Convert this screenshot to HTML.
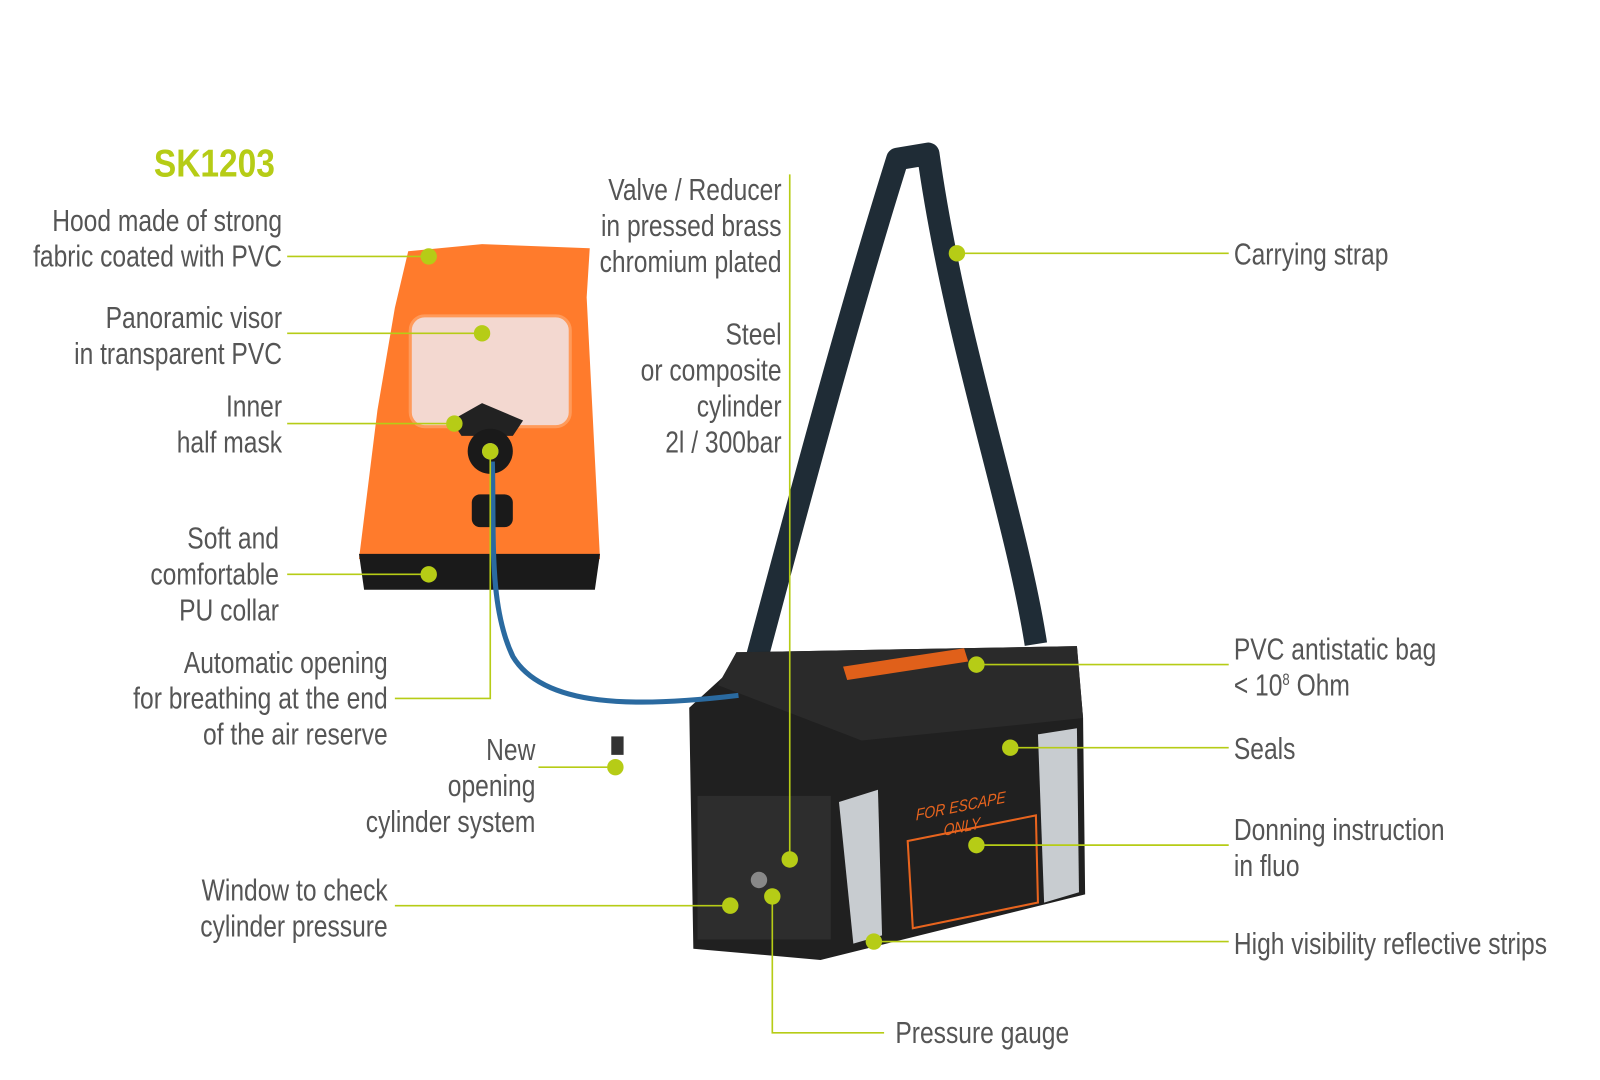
<!DOCTYPE html>
<html><head><meta charset="utf-8"><style>
html,body{margin:0;padding:0;background:#fff;width:1600px;height:1080px;overflow:hidden}
svg{display:block}
text{font-family:"Liberation Sans",sans-serif;fill:#555;font-size:30px}
.r{text-anchor:end}
</style></head><body>
<svg width="1600" height="1080" viewBox="0 0 1560 1053" xmlns="http://www.w3.org/2000/svg">
<!-- strap -->
<path d="M725 690 C760 560 820 330 875 155 L905 150 C930 330 990 500 1010 628" fill="none" stroke="#1f2c36" stroke-width="22" stroke-linejoin="round"/>
<!-- bag -->
<path d="M672 690 L705 660 L718 636 L1050 630 L1056 700 L1058 872 L800 936 L676 925 Z" fill="#202020"/>
<path d="M700 668 L718 636 L1050 630 L1056 700 L1000 706 L840 722 Z" fill="#2a2a2a"/>
<path d="M818 782 L856 770 L860 912 L832 920 Z" fill="#c8ccd0"/>
<path d="M1012 716 L1050 710 L1052 870 L1018 880 Z" fill="#c8ccd0"/>
<rect x="680" y="776" width="130" height="140" fill="#2d2d2d"/>
<path d="M822 650 L940 632 L944 645 L826 663 Z" fill="#e0601a"/>
<text transform="matrix(0.85 -0.17 0 1 893 800)" style="fill:#e8641e;font-size:16px;font-style:italic">FOR ESCAPE</text>
<text transform="matrix(0.85 -0.17 0 1 920 815)" style="fill:#e8641e;font-size:16px;font-style:italic">ONLY</text>
<path d="M885 820 L1010 795 L1012 880 L890 905 Z" fill="none" stroke="#e8641e" stroke-width="2"/>
<circle cx="740" cy="858" r="8" fill="#888"/>
<!-- hood -->
<path d="M398 245 L470 238 L575 242 L572 290 L585 545 L350 545 L368 400 L385 300 Z" fill="#ff7b2c"/>
<path d="M350 540 L585 540 L580 575 L355 575 Z" fill="#1a1a1a"/>
<rect x="400" y="308" width="156" height="108" rx="14" fill="#f3d8d0" stroke="#ff9a5a" stroke-width="3"/>
<path d="M440 410 L470 393 L510 410 L500 425 L450 425 Z" fill="#222"/>
<circle cx="478" cy="440" r="22" fill="#1a1a1a"/>
<circle cx="478" cy="440" r="8" fill="#bbb"/>
<rect x="460" y="482" width="40" height="32" rx="8" fill="#1a1a1a"/>
<path d="M480 450 C482 520 476 590 500 640 C530 690 620 690 720 678" fill="none" stroke="#2a6aa0" stroke-width="5"/>
<rect x="596" y="718" width="12" height="18" fill="#333"/>
<!-- title -->
<text transform="matrix(0.86 0 0 1 150 172)" style="fill:#b6cc16;font-weight:bold;font-size:38px">SK1203</text>
<!-- connectors -->
<g stroke="#b6cc16" stroke-width="1.6" fill="none">
<path d="M280 250 H418 M280 325 H470 M280 413 H443 M280 560 H418 M385 681 H478 V440 M525 748 H600 M770 170 V838 M385 883 H712 M753 874 V1007 H862 M933 247 H1198 M952 648 H1198 M985 729 H1198 M952 824 H1198 M852 918 H1198"/>
</g>
<g fill="#b6cc16">
<circle cx="418" cy="250" r="8"/><circle cx="470" cy="325" r="8"/><circle cx="443" cy="413" r="8"/><circle cx="418" cy="560" r="8"/><circle cx="478" cy="440" r="8"/><circle cx="600" cy="748" r="8"/><circle cx="770" cy="838" r="8"/><circle cx="712" cy="883" r="8"/><circle cx="753" cy="874" r="8"/><circle cx="933" cy="247" r="8"/><circle cx="952" cy="648" r="8"/><circle cx="985" cy="729" r="8"/><circle cx="952" cy="824" r="8"/><circle cx="852" cy="918" r="8"/>
</g>
<!-- labels -->
<text class="r" transform="matrix(0.8 0 0 1 275 225)">Hood made of strong</text>
<text class="r" transform="matrix(0.8 0 0 1 275 260)">fabric coated with PVC</text>
<text class="r" transform="matrix(0.8 0 0 1 275 320)">Panoramic visor</text>
<text class="r" transform="matrix(0.8 0 0 1 275 355)">in transparent PVC</text>
<text class="r" transform="matrix(0.8 0 0 1 275 406)">Inner</text>
<text class="r" transform="matrix(0.8 0 0 1 275 441)">half mask</text>
<text class="r" transform="matrix(0.8 0 0 1 272 535)">Soft and</text>
<text class="r" transform="matrix(0.8 0 0 1 272 570)">comfortable</text>
<text class="r" transform="matrix(0.8 0 0 1 272 605)">PU collar</text>
<text class="r" transform="matrix(0.8 0 0 1 378 656)">Automatic opening</text>
<text class="r" transform="matrix(0.8 0 0 1 378 691)">for breathing at the end</text>
<text class="r" transform="matrix(0.8 0 0 1 378 726)">of the air reserve</text>
<text class="r" transform="matrix(0.8 0 0 1 522 741)">New</text>
<text class="r" transform="matrix(0.8 0 0 1 522 776)">opening</text>
<text class="r" transform="matrix(0.8 0 0 1 522 811)">cylinder system</text>
<text class="r" transform="matrix(0.8 0 0 1 378 878)">Window to check</text>
<text class="r" transform="matrix(0.8 0 0 1 378 913)">cylinder pressure</text>
<text class="r" transform="matrix(0.8 0 0 1 762 195)">Valve / Reducer</text>
<text class="r" transform="matrix(0.8 0 0 1 762 230)">in pressed brass</text>
<text class="r" transform="matrix(0.8 0 0 1 762 265)">chromium plated</text>
<text class="r" transform="matrix(0.8 0 0 1 762 336)">Steel</text>
<text class="r" transform="matrix(0.8 0 0 1 762 371)">or composite</text>
<text class="r" transform="matrix(0.8 0 0 1 762 406)">cylinder</text>
<text class="r" transform="matrix(0.8 0 0 1 762 441)">2l / 300bar</text>
<text transform="matrix(0.8 0 0 1 1203 258)">Carrying strap</text>
<text transform="matrix(0.8 0 0 1 1203 643)">PVC antistatic bag</text>
<text transform="matrix(0.8 0 0 1 1203 678)">&lt; 10<tspan dy="-10" style="font-size:16px">8</tspan><tspan dy="10"> Ohm</tspan></text>
<text transform="matrix(0.8 0 0 1 1203 740)">Seals</text>
<text transform="matrix(0.8 0 0 1 1203 819)">Donning instruction</text>
<text transform="matrix(0.8 0 0 1 1203 854)">in fluo</text>
<text transform="matrix(0.8 0 0 1 1203 930)">High visibility reflective strips</text>
<text transform="matrix(0.8 0 0 1 873 1017)">Pressure gauge</text>
</svg>
</body></html>
